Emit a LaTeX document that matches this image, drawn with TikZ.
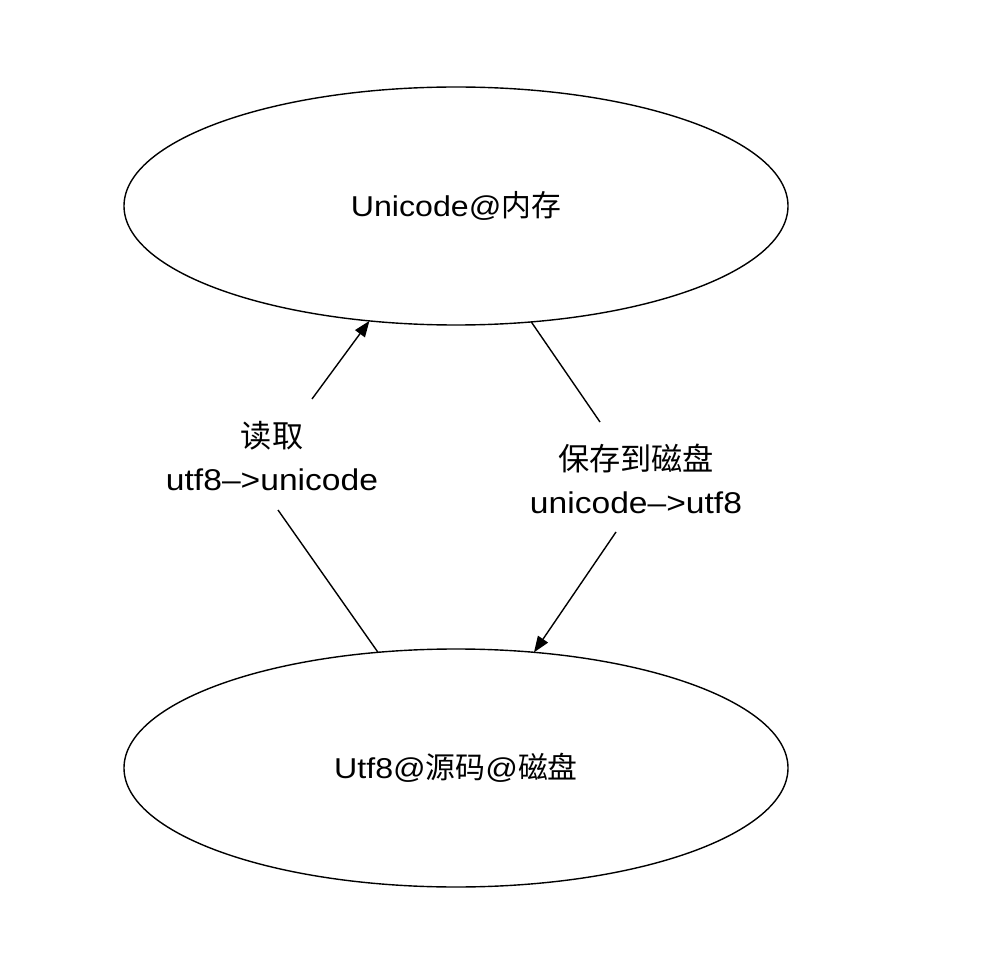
\documentclass[tikz,border=0pt]{standalone}
\usepackage{fontspec}
\setmainfont{Liberation Sans}[FakeStretch=1.12]
\newfontfamily\cjk{Noto Sans CJK SC}[Scale=1.04]
\usetikzlibrary{shapes.geometric,arrows.meta}
\begin{document}
\begin{tikzpicture}[x=1pt,y=-1pt,
  state/.style={ellipse,draw,line width=1.4pt,minimum width=664pt,minimum height=238pt,inner sep=0pt,outer sep=0pt,font=\fontsize{28.7}{36}\selectfont},
  lbl/.style={align=center,inner sep=0pt,font=\fontsize{30}{43}\selectfont},
  conn/.style={line width=1.4pt},
  arr/.style={line width=1.4pt,-{Triangle[length=16pt,width=12pt]}}]
\useasboundingbox (0,0) rectangle (1002,976);
\node[state] (top) at (456,206) {Unicode@{\cjk 内存}};
\node[state] (bot) at (456,768) {Utf8@{\cjk 源码}@{\cjk 磁盘}};
\node[lbl] (l) at (272,456) {{\cjk 读取}\\utf8–>unicode};
\node[lbl] (r) at (636,479) {{\cjk 保存到磁盘}\\unicode–>utf8};
\coordinate (la) at (278,510);
\coordinate (lb) at (312,399);
\coordinate (ra) at (600,422);
\coordinate (rb) at (616,532);
\draw[conn] (bot.124.3) -- (la);
\draw[arr] (lb) -- (top.233);
\draw[conn] (top.303.4) -- (ra);
\draw[arr] (rb) -- (bot.56.2);
\end{tikzpicture}
\end{document}
